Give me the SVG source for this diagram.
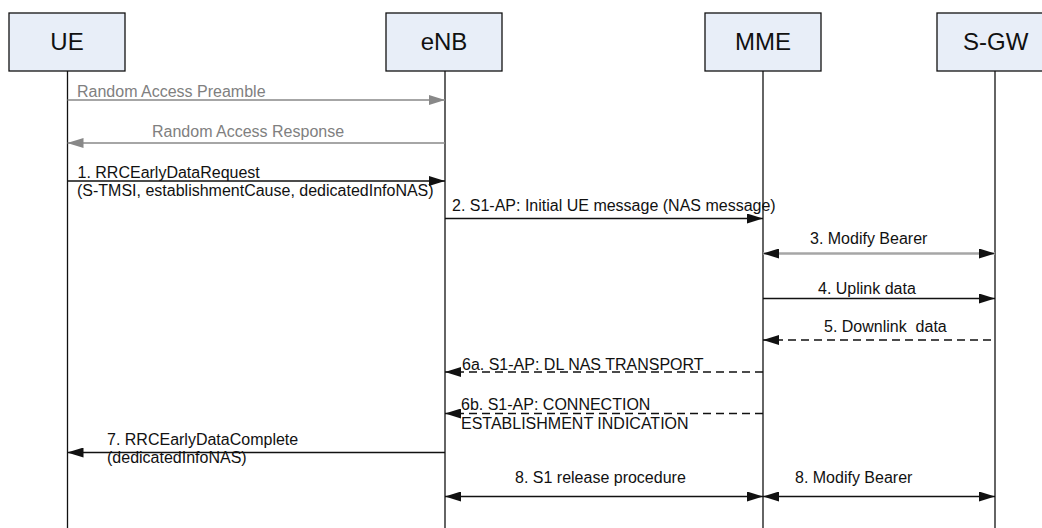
<svg xmlns="http://www.w3.org/2000/svg" width="1042" height="528" viewBox="0 0 1042 528">
  <style>
    .box { fill: #e8eef8; stroke: #111; stroke-width: 1.3; }
    .nlabel { font-family: "Liberation Sans", Arial, sans-serif; font-size: 24px; fill: #111; text-anchor: middle; }
    .life { stroke: #111; stroke-width: 1.3; fill: none; }
    .lbl { font-family: "Liberation Sans", Arial, sans-serif; font-size: 16px; fill: #111; white-space: pre; }
    .glbl { font-family: "Liberation Sans", Arial, sans-serif; font-size: 16px; fill: #808080; }
    .msg { stroke: #111; stroke-width: 1.3; fill: none; }
    .gmsg { stroke: #888; stroke-width: 1.3; fill: none; }
    .thick { stroke: #a6a6a6; stroke-width: 2.6; fill: none; }
    .dash { stroke-dasharray: 8 5; }
  </style>
  <defs>
    <marker id="ah" markerUnits="userSpaceOnUse" markerWidth="16" markerHeight="10" refX="16" refY="5" orient="auto-start-reverse" viewBox="0 0 16 10">
      <path d="M0,0 L16,5 L0,10 z" fill="#111"/>
    </marker>
    <marker id="ahg" markerUnits="userSpaceOnUse" markerWidth="16" markerHeight="10" refX="16" refY="5" orient="auto-start-reverse" viewBox="0 0 16 10">
      <path d="M0,0 L16,5 L0,10 z" fill="#888"/>
    </marker>
  </defs>

  <g id="UE">
    <rect class="box" x="9" y="13" width="116" height="58"/>
    <text class="nlabel" x="67" y="50">UE</text>
    <line class="life" x1="67.5" y1="71" x2="67.5" y2="528"/>
  </g>
  <g id="eNB">
    <rect class="box" x="386" y="13" width="116" height="58"/>
    <text class="nlabel" x="444" y="50">eNB</text>
    <line class="life" x1="445" y1="71" x2="445" y2="528"/>
  </g>
  <g id="MME">
    <rect class="box" x="705" y="13" width="116" height="58"/>
    <text class="nlabel" x="763" y="50">MME</text>
    <line class="life" x1="763" y1="71" x2="763" y2="528"/>
  </g>
  <g id="S-GW">
    <rect class="box" x="937" y="13" width="116" height="58"/>
    <text class="nlabel" x="963" y="50" style="text-anchor:start">S-GW</text>
    <line class="life" x1="995" y1="71" x2="995" y2="528"/>
  </g>

  <g id="connectors">
    <line class="gmsg" x1="67.5" y1="100" x2="445" y2="100" marker-end="url(#ahg)"/>
    <text class="glbl" x="77" y="96.5">Random Access Preamble</text>

    <line class="gmsg" x1="445" y1="143" x2="67.5" y2="143" marker-end="url(#ahg)"/>
    <text class="glbl" x="152" y="137">Random Access Response</text>

    <line class="msg" x1="67.5" y1="181" x2="445" y2="181" marker-end="url(#ah)"/>
    <text class="lbl" x="77.5" y="178">1. RRCEarlyDataRequest</text>
    <text class="lbl" x="77" y="196">(S-TMSI, establishmentCause, dedicatedInfoNAS)</text>

    <line class="msg" x1="445" y1="218.5" x2="763" y2="218.5" marker-end="url(#ah)"/>
    <text class="lbl" x="452" y="211">2. S1-AP: Initial UE message (NAS message)</text>

    <line class="thick" x1="763" y1="253.5" x2="995" y2="253.5" marker-start="url(#ah)" marker-end="url(#ah)"/>
    <text class="lbl" x="810" y="243.5">3. Modify Bearer</text>

    <line class="msg" x1="763" y1="298.5" x2="995" y2="298.5" marker-end="url(#ah)"/>
    <text class="lbl" x="818" y="293.5">4. Uplink data</text>

    <line class="msg dash" x1="991" y1="340" x2="763" y2="340" marker-end="url(#ah)"/>
    <text class="lbl" x="824" y="332" xml:space="preserve">5. Downlink  data</text>

    <line class="msg dash" x1="763" y1="372" x2="445" y2="372" marker-end="url(#ah)"/>
    <text class="lbl" x="462" y="369.5">6a. S1-AP: DL NAS TRANSPORT</text>

    <line class="msg dash" x1="763" y1="413.5" x2="445" y2="413.5" marker-end="url(#ah)"/>
    <text class="lbl" x="461" y="409.5">6b. S1-AP: CONNECTION</text>
    <text class="lbl" x="461" y="428.5">ESTABLISHMENT INDICATION</text>

    <line class="msg" x1="445" y1="452.5" x2="67.5" y2="452.5" marker-end="url(#ah)"/>
    <text class="lbl" x="107" y="445">7. RRCEarlyDataComplete</text>
    <text class="lbl" x="107" y="462.5">(dedicatedInfoNAS)</text>

    <line class="msg" x1="445" y1="496.5" x2="763" y2="496.5" marker-start="url(#ah)" marker-end="url(#ah)"/>
    <text class="lbl" x="515" y="483">8. S1 release procedure</text>

    <line class="msg" x1="763" y1="496.5" x2="995" y2="496.5" marker-start="url(#ah)" marker-end="url(#ah)"/>
    <text class="lbl" x="795" y="483">8. Modify Bearer</text>
  </g>
</svg>
